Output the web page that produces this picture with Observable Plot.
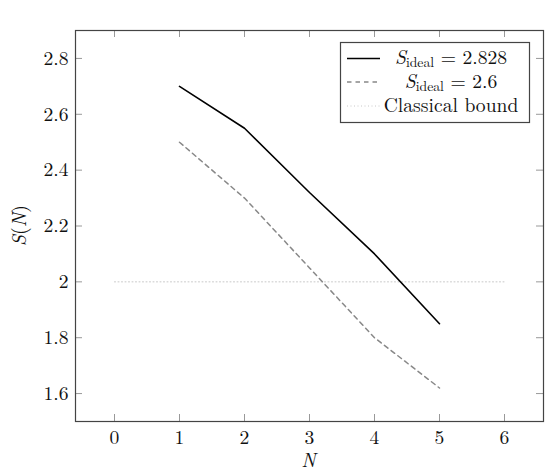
<!DOCTYPE html>
<html>
<head>
<meta charset="utf-8">
<script src="https://cdn.jsdelivr.net/npm/d3@7"></script>
<script src="https://cdn.jsdelivr.net/npm/@observablehq/plot@0.6"></script>
<style>
  body { margin: 0; background: #fff; }
  svg { display: block; }
  svg, svg text, svg tspan { font-family: "Latin Modern Roman", "Liberation Serif", serif !important; }
</style>
</head>
<body>
<div id="chart"></div>
<script>
// Data
const N = [1, 2, 3, 4, 5];
const S_2828 = [2.70, 2.55, 2.32, 2.10, 1.85];
const S_26 = [2.50, 2.30, 2.05, 1.80, 1.62];
const boundN = [0, 6];
const boundS = [2, 2];
const xTicks = [0, 1, 2, 3, 4, 5, 6];
const xTickLabels = ["0", "1", "2", "3", "4", "5", "6"];
const yTicks = [1.6, 1.8, 2.0, 2.2, 2.4, 2.6, 2.8];
const yTickLabels = ["1.6", "1.8", "2", "2.2", "2.4", "2.6", "2.8"];
const seriesNames = ["2.828", "2.6", "Classical bound"];

const FONT = "Latin Modern Roman";
const FS = 19.6;
const W = 555, H = 472;
const mL = 75, mR = 12, mT = 30, mB = 51;
const fw = W - mL - mR, fh = H - mT - mB;
const tick = 7;

const solid = N.map((n, i) => ({n, s: S_2828[i]}));
const dashed = N.map((n, i) => ({n, s: S_26[i]}));
const bound = boundN.map((n, i) => ({n, s: boundS[i]}));

const chart = Plot.plot({
  width: W, height: H,
  marginLeft: mL, marginRight: mR, marginTop: mT, marginBottom: mB,
  style: {fontFamily: FONT, fontSize: FS + "px", background: "#fff", color: "#111"},
  x: {domain: [-0.6, 6.6], ticks: xTicks, tickSize: 0, tickPadding: 9, label: null,
      tickFormat: d => xTickLabels[xTicks.indexOf(d)]},
  y: {domain: [1.5, 2.9], ticks: yTicks, tickSize: 0, tickPadding: 7, label: null,
      tickFormat: d => yTickLabels[yTicks.findIndex(t => Math.abs(t - d) < 1e-9)]},
  marks: [
    Plot.ruleX(xTicks, {x: d => d, insetTop: fh - tick, stroke: "#999", strokeWidth: 1}),
    Plot.ruleX(xTicks, {x: d => d, insetBottom: fh - tick, stroke: "#999", strokeWidth: 1}),
    Plot.ruleY(yTicks, {y: d => d, insetRight: fw - tick, stroke: "#999", strokeWidth: 1}),
    Plot.ruleY(yTicks, {y: d => d, insetLeft: fw - tick, stroke: "#999", strokeWidth: 1}),
    Plot.line(bound, {x: "n", y: "s", stroke: "#c8c8c8", strokeWidth: 1, strokeDasharray: "1 2.5"}),
    Plot.line(dashed, {x: "n", y: "s", stroke: "#888", strokeWidth: 1.5, strokeDasharray: "4.5 4"}),
    Plot.line(solid, {x: "n", y: "s", stroke: "#000", strokeWidth: 1.6}),
    Plot.frame({stroke: "#444", strokeWidth: 1.2})
  ]
});

const svg = d3.select(chart).attr("font-family", FONT);
svg.selectAll("g").attr("font-family", FONT);

// Axis labels
const xl = svg.append("text")
  .attr("x", mL + fw / 2 - 0.5).attr("y", 467)
  .attr("text-anchor", "middle")
  .attr("font-family", FONT).attr("font-size", FS).attr("fill", "#111");
xl.append("tspan").attr("font-style", "italic").text("N");

const yl = svg.append("text")
  .attr("transform", `translate(26,${mT + fh / 2}) rotate(-90)`)
  .attr("text-anchor", "middle")
  .attr("font-family", FONT).attr("font-size", FS).attr("fill", "#111");
yl.append("tspan").attr("font-style", "italic").text("S");
yl.append("tspan").text("(");
yl.append("tspan").attr("font-style", "italic").text("N");
yl.append("tspan").text(")");

// Legend
const lg = svg.append("g").attr("font-family", FONT).attr("font-size", FS).attr("fill", "#111");
lg.append("rect").attr("x", 340.5).attr("y", 42.5).attr("width", 189).attr("height", 80)
  .attr("fill", "#fff").attr("stroke", "#444").attr("stroke-width", 1.2);
const rows = [
  {y: 58.5, stroke: "#000", sw: 1.6, dash: null},
  {y: 82, stroke: "#888", sw: 1.5, dash: "4.5 4"},
  {y: 106, stroke: "#c8c8c8", sw: 1, dash: "1 2.5"}
];
rows.forEach((r, i) => {
  const l = lg.append("line").attr("x1", 347).attr("x2", 380).attr("y1", r.y).attr("y2", r.y)
    .attr("stroke", r.stroke).attr("stroke-width", r.sw);
  if (r.dash) l.attr("stroke-dasharray", r.dash);
  const t = lg.append("text").attr("x", 451).attr("y", r.y + 5.5).attr("text-anchor", "middle");
  if (i < 2) {
    t.append("tspan").attr("font-style", "italic").text("S");
    t.append("tspan").attr("font-size", 13.7).attr("dy", 3).text("ideal");
    t.append("tspan").attr("dy", -3).text(" = " + seriesNames[i]);
  } else {
    t.text(seriesNames[i]);
  }
});

document.getElementById("chart").appendChild(chart);
</script>
</body>
</html>
